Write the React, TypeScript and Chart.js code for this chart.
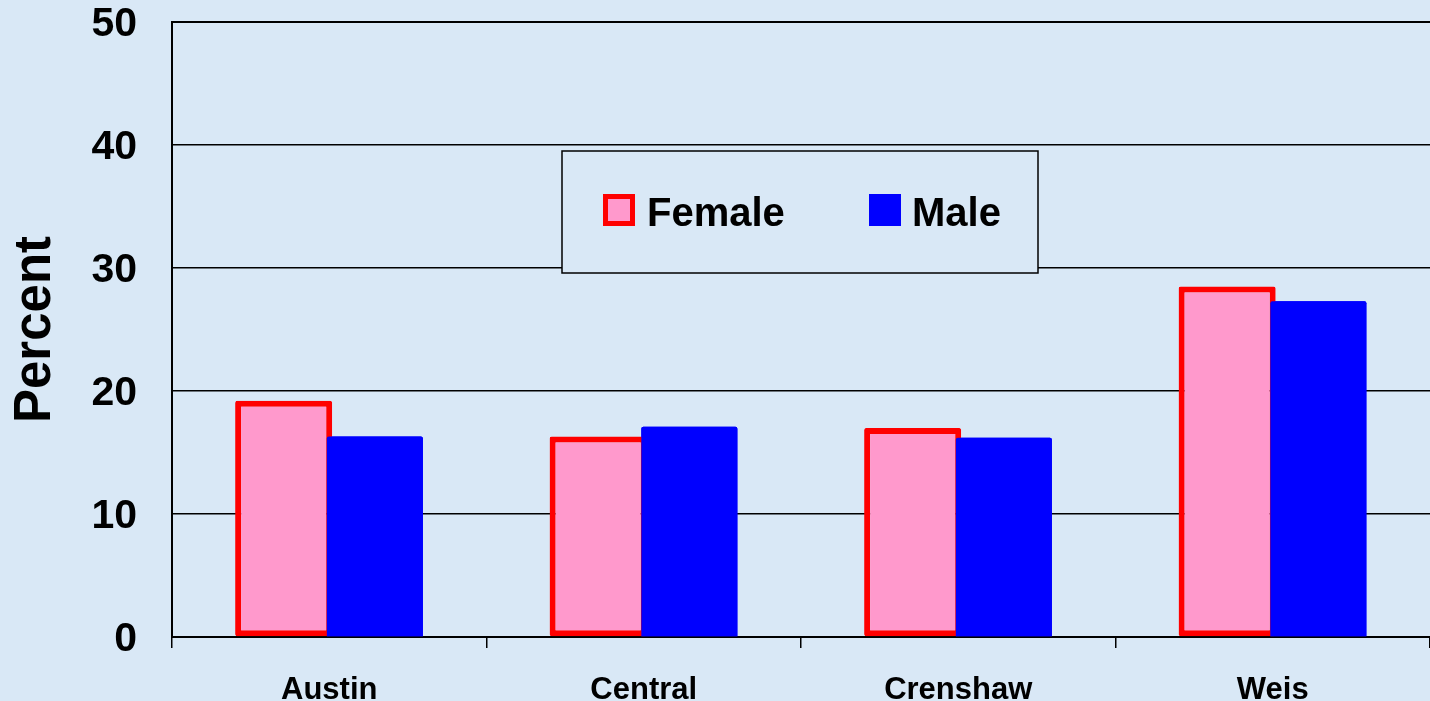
import React, { useEffect, useRef } from "react";
import { Chart, registerables } from "chart.js";

Chart.register(...registerables);

const categories = ["Austin", "Central", "Crenshaw", "Weis"];
const femaleValues = [19.2, 16.3, 17.0, 28.5];
const maleValues = [16.3, 17.1, 16.2, 27.3];
const seriesNames = ["Female", "Male"];
const yTicks = [0, 10, 20, 30, 40, 50];

const FONT = "'Liberation Sans', Arial, Helvetica, sans-serif";
const BG = "#d9e8f6";
const PINK = "#ff99cc";
const RED = "#ff0000";
const BLUE = "#0000ff";

const bgPlugin = {
  id: "bgFill",
  beforeDraw(chart: any) {
    const { ctx, width, height } = chart;
    ctx.save();
    ctx.fillStyle = BG;
    ctx.fillRect(0, 0, width, height);
    ctx.restore();
  },
};

const maleOnTopPlugin = {
  id: "maleOnTop",
  afterDatasetsDraw(chart: any) {
    const meta = chart.getDatasetMeta(1);
    if (meta && meta.visible !== false) {
      const ctx = chart.ctx;
      ctx.save();
      meta.controller.draw();
      ctx.restore();
    }
  },
};

const legendBoxPlugin = {
  id: "legendBox",
  afterDraw(chart: any) {
    const { ctx, chartArea } = chart;
    const bx = chartArea.left + 390;
    const by = chartArea.top + 129;
    const bw = 476;
    const bh = 122;
    ctx.save();
    ctx.fillStyle = BG;
    ctx.fillRect(bx, by, bw, bh);
    ctx.strokeStyle = "#000";
    ctx.lineWidth = 1.5;
    ctx.strokeRect(bx, by, bw, bh);

    const sw = 32;
    const baseY = by + 75;
    const fx = bx + 41;
    ctx.fillStyle = RED;
    ctx.fillRect(fx, baseY - sw, sw, sw);
    ctx.fillStyle = PINK;
    ctx.fillRect(fx + 5, baseY - sw + 5, sw - 10, sw - 10);
    const mx = bx + 307;
    ctx.fillStyle = BLUE;
    ctx.fillRect(mx, baseY - sw, sw, sw);

    ctx.fillStyle = "#000";
    ctx.font = `bold 40px ${FONT}`;
    ctx.textBaseline = "alphabetic";
    ctx.textAlign = "left";
    ctx.fillText(seriesNames[0], fx + sw + 12, baseY);
    ctx.fillText(seriesNames[1], mx + sw + 11, baseY);
    ctx.restore();
  },
};

export default function App() {
  const canvasRef = useRef<HTMLCanvasElement | null>(null);

  useEffect(() => {
    document.body.style.margin = "0";
    document.body.style.background = BG;
    const canvas = canvasRef.current;
    if (!canvas) return;
    const chart = new Chart(canvas, {
      type: "bar",
      data: {
        labels: categories,
        datasets: [
          {
            label: seriesNames[0],
            data: femaleValues,
            backgroundColor: PINK,
            borderColor: RED,
            borderWidth: 6,
            borderSkipped: false,
            borderRadius: 2,
            categoryPercentage: 0.58,
            barPercentage: 1.064,
          },
          {
            label: seriesNames[1],
            data: maleValues,
            backgroundColor: BLUE,
            borderWidth: 0,
            borderRadius: 2,
            categoryPercentage: 0.58,
            barPercentage: 1.053,
          },
        ],
      },
      options: {
        responsive: false,
        animation: false,
        layout: { padding: { top: 22, right: 0, bottom: 0, left: 0 } },
        plugins: {
          legend: { display: false },
          tooltip: { enabled: false },
        },
        scales: {
          x: {
            offset: true,
            grid: {
              display: true,
              offset: true,
              drawOnChartArea: false,
              drawTicks: true,
              tickLength: 11,
              color: "#000",
              lineWidth: 1.5,
            },
            border: { display: true, color: "#000", width: 2 },
            ticks: {
              color: "#000",
              font: { family: FONT, size: 31, weight: "bold" },
              padding: 24,
              maxRotation: 0,
              autoSkip: false,
            },
            afterFit(scale: any) {
              scale.height = 64;
              scale.paddingLeft = 0;
              scale.paddingRight = 0;
            },
          },
          y: {
            min: 0,
            max: 50,
            afterBuildTicks(scale: any) {
              scale.ticks = yTicks.map((v) => ({ value: v }));
            },
            grid: {
              color: "#000",
              lineWidth: (c: any) => (c.tick && c.tick.value === 50 ? 2 : 1.5),
              drawTicks: false,
            },
            border: { display: true, color: "#000", width: 2 },
            ticks: {
              color: "#000",
              font: { family: FONT, size: 41, weight: "bold" },
              padding: 35,
              labelOffset: 3,
            },
            title: {
              display: true,
              text: "Percent",
              color: "#000",
              font: { family: FONT, size: 51, weight: "bold" },
              padding: { top: 5, bottom: 0 },
            },
            afterFit(scale: any) {
              scale.width = 172;
              scale.paddingTop = 0;
              scale.paddingBottom = 0;
            },
          },
        },
      },
      plugins: [bgPlugin, maleOnTopPlugin, legendBoxPlugin],
    });
    return () => {
      chart.destroy();
    };
  }, []);

  return (
    <div style={{ position: "absolute", left: 0, top: 0, width: 1430, height: 701 }}>
      <canvas ref={canvasRef} width={1430} height={701} style={{ width: 1430, height: 701, display: "block" }} />
    </div>
  );
}
